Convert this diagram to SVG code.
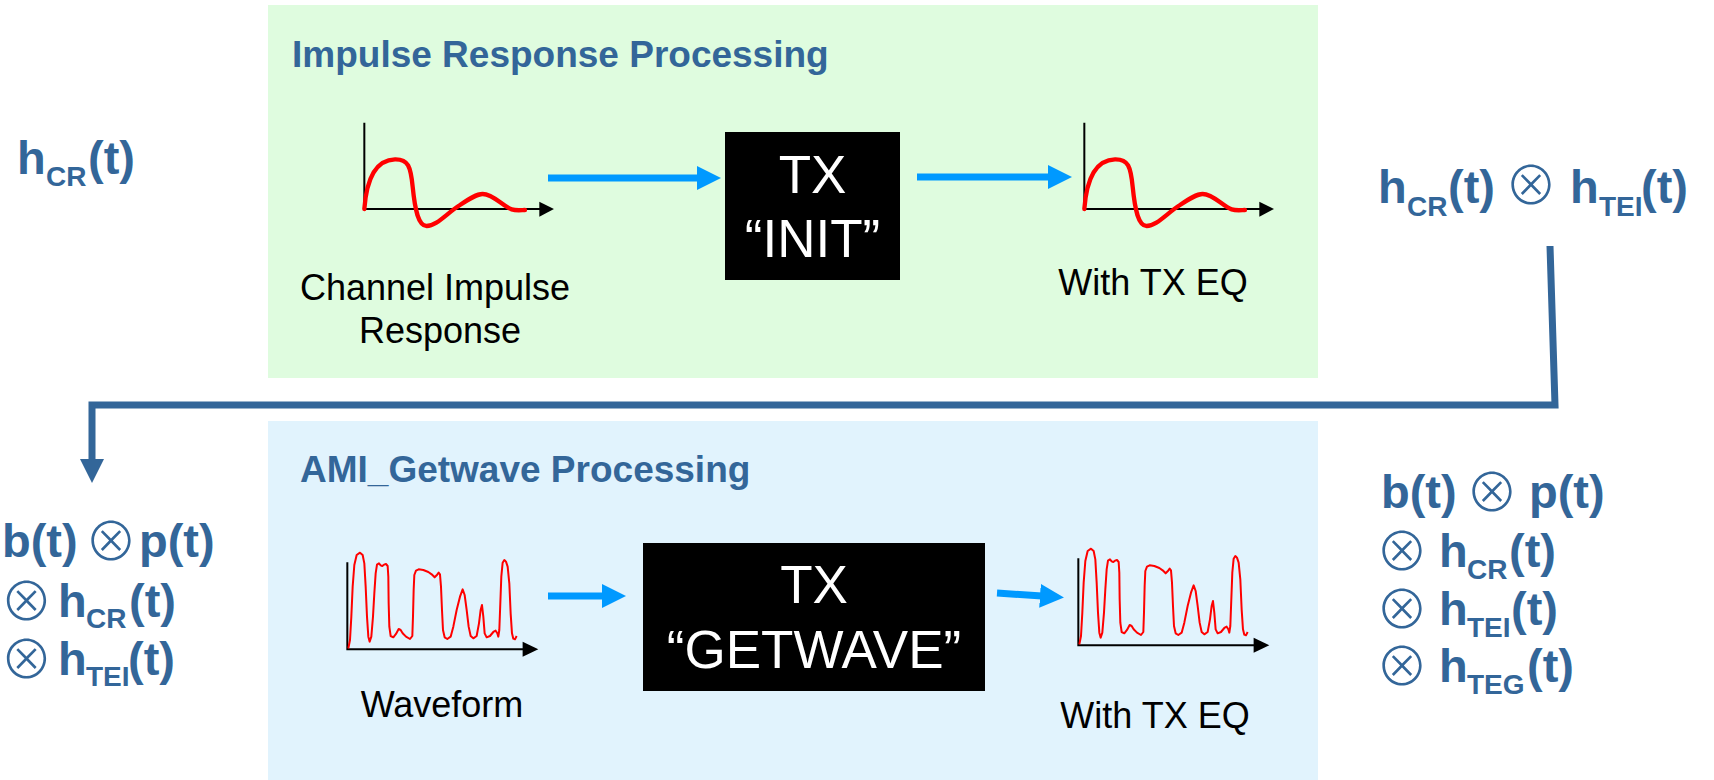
<svg xmlns="http://www.w3.org/2000/svg" xmlns:xlink="http://www.w3.org/1999/xlink" width="1714" height="780" viewBox="0 0 1714 780">
<style>
.title{font-family:"Liberation Sans",Arial,sans-serif;font-weight:bold;font-size:37px;fill:#336699}
.lbl{font-family:"Liberation Sans",Arial,sans-serif;font-size:36px;fill:#000}
.box{fill:#000}
.btxt{font-family:"Liberation Sans",Arial,sans-serif;font-size:53px;fill:#fff;text-anchor:middle}
.f{font-family:"Liberation Sans",Arial,sans-serif;font-weight:bold;font-size:47px;fill:#336699}
.sub{font-size:28px}
.op{font-family:"Noto Sans CJK JP","DejaVu Sans",sans-serif;font-weight:300;font-size:53px;fill:#336699;text-anchor:middle}
.blue{stroke:#0099FF;stroke-width:7;fill:none}
.conn{stroke:#336699;stroke-width:7;fill:none;stroke-linejoin:miter}
.axis{stroke:#000;stroke-width:6;fill:none}
</style>
<defs>
<marker id="bluehead" markerUnits="userSpaceOnUse" markerWidth="24" markerHeight="24" viewBox="0 0 24 24" refX="2" refY="12" orient="auto">
<path d="M0,0 L24,12 L0,24 z" fill="#0099FF"/>
</marker>
<marker id="connhead" markerUnits="userSpaceOnUse" markerWidth="24" markerHeight="24" viewBox="0 0 24 24" refX="2" refY="12" orient="auto">
<path d="M0,0 L24,12 L0,24 z" fill="#336699"/>
</marker>
<g id="impulse">
<path class="axis" d="M73,38 V297 H600"/>
<path d="M598,275 L642,297 L598,320 z" fill="#000"/>
<path d="M73,297 C78,230 95,150 165,148 C205,147 212,170 218,230 C225,300 235,348 260,348 C290,348 320,310 360,285 C390,265 410,252 428,252 C460,252 490,290 515,298 C530,303 545,300 555,300" fill="none" stroke="#FF0000" stroke-width="13" stroke-linecap="round"/>
</g>
<g id="wave">
<path class="axis" d="M52,97 V358 H580"/>
<path d="M578,335 L625,358 L578,380 z" fill="#000"/>
<path d="M55,355 L60,330 L64,260 L68,170 L73,105 L80,75 L90,68 L98,75 L103,100 L107,170 L111,260 L115,320 L119,335 L124,320 L129,260 L133,190 L137,130 L141,104 L147,100 L152,106 L157,108 L162,104 L168,102 L173,108 L175,140 L176,220 L178,290 L182,318 L190,322 L198,312 L206,297 L212,300 L218,310 L228,320 L240,327 L247,318 L249,260 L251,180 L253,135 L258,122 L266,118 L280,120 L295,126 L305,133 L314,142 L320,136 L326,128 L330,133 L333,170 L336,240 L339,300 L344,322 L352,327 L362,320 L370,290 L380,240 L390,200 L398,178 L404,195 L410,240 L416,290 L422,318 L430,325 L440,318 L447,280 L452,240 L456,225 L460,260 L464,310 L470,322 L480,318 L490,306 L497,302 L502,310 L505,320 L508,300 L511,220 L514,140 L518,98 L523,90 L528,95 L533,110 L538,160 L542,250 L546,310 L550,326 L555,328 L560,318" fill="none" stroke="#FF0000" stroke-width="6" stroke-linejoin="round"/>
</g>
</defs>

<g id="panel-impulse">
<rect x="268" y="5" width="1050" height="373" fill="#DFFCDF"/>
<text class="title" x="292" y="67">Impulse Response Processing</text>
</g>
<g id="panel-getwave">
<rect x="268" y="421" width="1050" height="359" fill="#E1F3FD"/>
<text class="title" x="300" y="482">AMI_Getwave Processing</text>
</g>

<g id="impulse-in">
<use xlink:href="#impulse" transform="translate(340,110) scale(0.3333)"/>
<text class="lbl" x="435" y="300" text-anchor="middle">Channel Impulse</text>
<text class="lbl" x="440" y="343" text-anchor="middle">Response</text>
</g>
<g id="tx-init">
<rect class="box" x="725" y="132" width="175" height="148"/>
<text class="btxt" x="812.5" y="193">TX</text>
<text class="btxt" x="812.5" y="257">“INIT”</text>
</g>
<g id="impulse-out">
<use xlink:href="#impulse" transform="translate(1060,110) scale(0.3333)"/>
<text class="lbl" x="1153" y="295" text-anchor="middle">With TX EQ</text>
</g>

<g id="wave-in">
<use xlink:href="#wave" transform="translate(330,530) scale(0.3333)"/>
<text class="lbl" x="442" y="717" text-anchor="middle">Waveform</text>
</g>
<g id="tx-getwave">
<rect class="box" x="643" y="543" width="342" height="148"/>
<text class="btxt" x="814" y="603">TX</text>
<text class="btxt" x="814" y="668">“GETWAVE”</text>
</g>
<g id="wave-out">
<use xlink:href="#wave" transform="translate(1061,526) scale(0.3333)"/>
<text class="lbl" x="1155" y="728" text-anchor="middle">With TX EQ</text>
</g>

<g id="formula-hcr">
<text class="f" y="174"><tspan x="17">h</tspan><tspan class="sub" x="46" y="186">CR</tspan><tspan x="88" y="174">(t)</tspan></text>
</g>
<g id="formula-hcr-htei">
<text class="f" y="203"><tspan x="1378">h</tspan><tspan class="sub" x="1407" y="216">CR</tspan><tspan x="1448" y="203">(t)</tspan></text>
<text class="op" x="1531" y="205">⊗</text>
<text class="f" y="203"><tspan x="1570">h</tspan><tspan class="sub" x="1599" y="216">TEI</tspan><tspan x="1641" y="203">(t)</tspan></text>
</g>
<g id="formula-left">
<text class="f" x="2" y="557">b(t)</text>
<text class="op" x="111" y="561">⊗</text>
<text class="f" x="139" y="557">p(t)</text>
<text class="op" x="26.5" y="621">⊗</text>
<text class="f" y="617"><tspan x="58">h</tspan><tspan class="sub" x="86" y="628">CR</tspan><tspan x="129" y="617">(t)</tspan></text>
<text class="op" x="26.5" y="679">⊗</text>
<text class="f" y="675"><tspan x="58">h</tspan><tspan class="sub" x="86" y="686">TEI</tspan><tspan x="128" y="675">(t)</tspan></text>
</g>
<g id="formula-right">
<text class="f" x="1381" y="508">b(t)</text>
<text class="op" x="1492" y="512">⊗</text>
<text class="f" x="1529" y="508">p(t)</text>
<text class="op" x="1402" y="571">⊗</text>
<text class="f" y="567"><tspan x="1439">h</tspan><tspan class="sub" x="1467" y="579">CR</tspan><tspan x="1509" y="567">(t)</tspan></text>
<text class="op" x="1402" y="629">⊗</text>
<text class="f" y="625"><tspan x="1439">h</tspan><tspan class="sub" x="1467" y="637">TEI</tspan><tspan x="1511" y="625">(t)</tspan></text>
<text class="op" x="1402" y="686">⊗</text>
<text class="f" y="682"><tspan x="1439">h</tspan><tspan class="sub" x="1467" y="694">TEG</tspan><tspan x="1527" y="682">(t)</tspan></text>
</g>

<g id="connectors">
<path class="blue" d="M548,178 H699" marker-end="url(#bluehead)"/>
<path class="blue" d="M917,177 H1050" marker-end="url(#bluehead)"/>
<path class="blue" d="M548,596 H604" marker-end="url(#bluehead)"/>
<path class="blue" d="M997,593 L1042,596" marker-end="url(#bluehead)"/>
<path class="conn" d="M1550,246 L1555,405 L92,405 L92,461" marker-end="url(#connhead)"/>
</g>
</svg>
